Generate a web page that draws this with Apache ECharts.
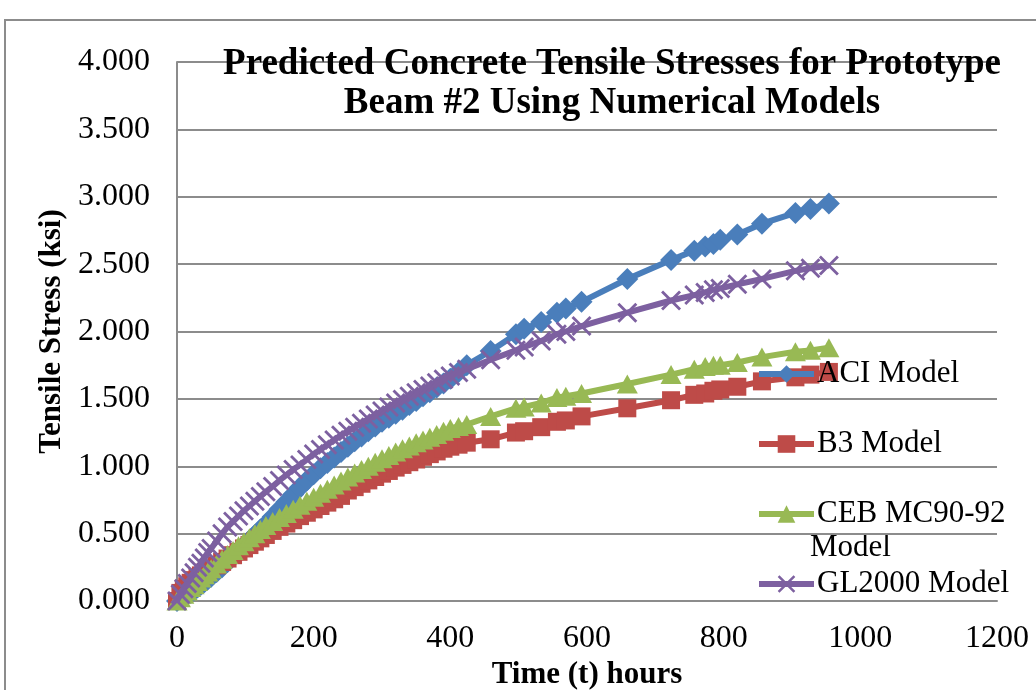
<!DOCTYPE html>
<html>
<head>
<meta charset="utf-8">
<script src="https://cdn.jsdelivr.net/npm/echarts@6/dist/echarts.min.js"></script>
<style>
  html, body { margin: 0; padding: 0; background: #ffffff; }
  #chart { width: 1036px; height: 690px; }
</style>
</head>
<body>
<div id="chart"></div>
<script>
// Elapsed time (hours) shared by all four models
const timeHours = [0,5,10,15,20,25,30,35,40,45,50,
  58,66,74,82,90,98,106,114,122,130,
  140,150,160,170,180,190,200,210,220,230,240,250,260,270,280,290,300,310,320,330,340,350,360,370,380,390,400,
  412,424,
  459,496,508,533,556,569,592,659,723,757,773,785,795,820,856,905,927,954];

// Predicted tensile stress (ksi) for each model
const aciModel = [0,0.015,0.03,0.045,0.06,0.08,0.10,0.12,0.14,0.16,0.18,
  0.215,0.25,0.29,0.33,0.37,0.41,0.45,0.49,0.53,0.57,
  0.625,0.68,0.735,0.79,0.845,0.895,0.94,0.985,1.025,1.065,1.105,1.145,1.185,1.22,1.26,1.295,1.33,1.36,1.39,1.42,1.455,1.485,1.52,1.55,1.585,1.615,1.65,
  1.70,1.75,
  1.855,1.98,2.02,2.07,2.14,2.17,2.22,2.39,2.53,2.60,2.63,2.65,2.68,2.72,2.80,2.88,2.91,2.95];

const b3Model = [0,0.06,0.09,0.11,0.135,0.155,0.175,0.19,0.21,0.225,0.24,
  0.265,0.29,0.315,0.34,0.365,0.39,0.415,0.44,0.465,0.49,
  0.52,0.55,0.575,0.60,0.63,0.655,0.68,0.705,0.73,0.755,0.78,0.82,0.845,0.87,0.895,0.92,0.945,0.965,0.99,1.01,1.03,1.05,1.07,1.09,1.11,1.13,1.145,
  1.16,1.175,
  1.20,1.25,1.26,1.29,1.33,1.34,1.37,1.43,1.49,1.53,1.54,1.56,1.57,1.59,1.63,1.66,1.68,1.70];

const cebModel = [0,0.025,0.05,0.075,0.10,0.12,0.145,0.17,0.195,0.215,0.24,
  0.275,0.31,0.345,0.375,0.41,0.44,0.47,0.50,0.53,0.56,
  0.59,0.62,0.65,0.68,0.71,0.74,0.77,0.80,0.83,0.86,0.89,0.92,0.95,0.975,1.00,1.03,1.055,1.08,1.105,1.13,1.15,1.175,1.195,1.215,1.235,1.26,1.28,
  1.295,1.31,
  1.37,1.43,1.44,1.47,1.51,1.52,1.54,1.61,1.68,1.72,1.74,1.75,1.75,1.77,1.81,1.85,1.86,1.88];

const gl2000Model = [0,0.05,0.09,0.13,0.17,0.21,0.25,0.28,0.32,0.36,0.39,
  0.445,0.50,0.55,0.59,0.63,0.67,0.705,0.74,0.775,0.81,
  0.85,0.895,0.935,0.975,1.01,1.05,1.09,1.125,1.16,1.195,1.23,1.26,1.29,1.32,1.35,1.38,1.41,1.44,1.47,1.495,1.52,1.545,1.57,1.595,1.62,1.645,1.67,
  1.695,1.72,
  1.79,1.86,1.885,1.93,1.98,2.00,2.04,2.14,2.23,2.27,2.29,2.31,2.32,2.35,2.39,2.45,2.47,2.49];

const seriesNames = ['ACI Model', 'B3 Model', 'CEB MC90-92 Model', 'GL2000 Model'];
const seriesColors = ['#4A7EBB', '#BE4B48', '#98B954', '#7D60A0'];

const FONT = '"Liberation Serif", "Times New Roman", serif';
const GRID_GRAY = '#8C8C8C';
// filled "x" glyph used as a marker
const CROSS = 'path://M0,1L1,0L5,4L9,0L10,1L6,5L10,9L9,10L5,6L1,10L0,9L4,5Z';

function pairs(values) {
  return timeHours.map((t, i) => [t, values[i]]);
}

function lineSeries(idx, values, symbol, size) {
  return {
    name: seriesNames[idx],
    type: 'line',
    data: pairs(values),
    symbol: symbol,
    symbolSize: size,
    showAllSymbol: true,
    clip: false,
    smooth: false,
    color: seriesColors[idx],
    lineStyle: { width: 6, color: seriesColors[idx] },
    itemStyle: { color: seriesColors[idx] },
    emphasis: { disabled: true },
    z: 2 + idx
  };
}

const chart = echarts.init(document.getElementById('chart'), null, { renderer: 'canvas' });

chart.setOption({
  animation: false,
  backgroundColor: '#ffffff',
  title: {
    text: 'Predicted Concrete Tensile Stresses for Prototype\nBeam #2 Using Numerical Models',
    left: 607,
    top: 40,
    textAlign: 'center',
    textStyle: {
      fontFamily: FONT,
      fontWeight: 'bold',
      fontSize: 37,
      lineHeight: 39,
      color: '#000000'
    }
  },
  graphic: [
    {
      type: 'rect',
      shape: { x: 5, y: 20, width: 1200, height: 900 },
      style: { fill: 'none', stroke: GRID_GRAY, lineWidth: 2 },
      z: -1,
      silent: true
    },
    {
      type: 'text',
      left: 810,
      top: 532,
      style: { text: 'Model', font: '31px ' + FONT, fill: '#000000' },
      silent: true
    }
  ],
  legend: {
    orient: 'vertical',
    left: 751,
    top: 351,
    itemWidth: 55,
    itemHeight: 22,
    itemGap: 34,
    selectedMode: false,
    data: seriesNames,
    lineStyle: { width: 6 },
    formatter: function (name) {
      return name === 'CEB MC90-92 Model' ? 'CEB MC90-92' : name;
    },
    textStyle: {
      fontFamily: FONT,
      fontSize: 31,
      lineHeight: 36,
      color: '#000000',
      padding: [0, 0, 0, -2]
    }
  },
  grid: {
    left: 177,
    right: 39,
    top: 62,
    bottom: 89,
    containLabel: false,
    outerBoundsMode: 'none'
  },
  xAxis: {
    type: 'value',
    min: 0,
    max: 1200,
    interval: 200,
    name: 'Time (t) hours',
    nameLocation: 'middle',
    nameGap: 53,
    nameTextStyle: { fontFamily: FONT, fontWeight: 'bold', fontSize: 31, color: '#000000' },
    axisLine: { show: true, lineStyle: { color: GRID_GRAY, width: 2 } },
    axisTick: { show: false },
    splitLine: { show: false },
    axisLabel: {
      fontFamily: FONT,
      fontSize: 32,
      color: '#000000',
      margin: 22,
      formatter: function (v) { return String(v); }
    }
  },
  yAxis: {
    type: 'value',
    min: 0,
    max: 4,
    interval: 0.5,
    name: 'Tensile Stress (ksi)',
    nameLocation: 'middle',
    nameGap: 110,
    nameTextStyle: { fontFamily: FONT, fontWeight: 'bold', fontSize: 31, color: '#000000' },
    axisLine: { show: true, lineStyle: { color: GRID_GRAY, width: 2 } },
    axisTick: { show: false },
    splitLine: { show: true, lineStyle: { color: GRID_GRAY, width: 2 } },
    axisLabel: {
      fontFamily: FONT,
      fontSize: 32,
      color: '#000000',
      margin: 27,
      formatter: function (v) { return v.toFixed(3); }
    }
  },
  series: [
    lineSeries(0, aciModel, 'diamond', 22),
    lineSeries(1, b3Model, 'rect', 18),
    lineSeries(2, cebModel, 'triangle', [21, 19]),
    lineSeries(3, gl2000Model, CROSS, 20)
  ]
});
</script>
</body>
</html>
